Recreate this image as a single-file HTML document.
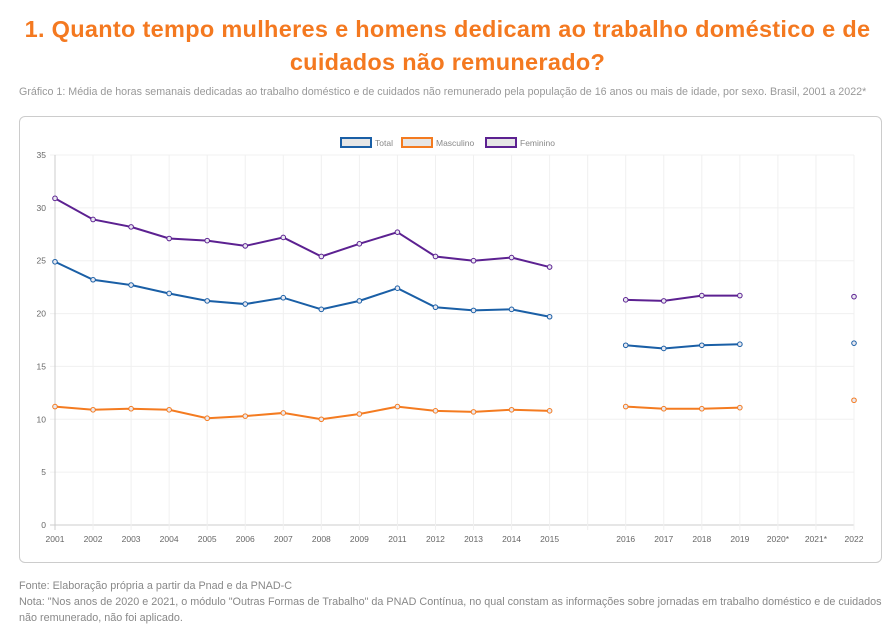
<!DOCTYPE html>
<html><head><meta charset="utf-8"><style>
body{margin:0;width:895px;height:643px;background:#fff;font-family:"Liberation Sans",sans-serif;overflow:hidden;position:relative}
h1{position:absolute;left:0;width:895px;top:13px;margin:0;text-align:center;color:#f47920;font-size:23.5px;line-height:33px;font-weight:bold;letter-spacing:0.3px}
.sub{position:absolute;left:19px;top:86px;font-size:10.7px;color:#999;white-space:nowrap}
.card{position:absolute;left:19px;top:116px;width:861px;height:445px;border:1px solid #ccc;border-radius:6px}
.foot{position:absolute;left:19px;top:578px;font-size:10.8px;color:#888;line-height:16px;white-space:nowrap}
svg{position:absolute;left:0;top:0}
</style></head><body>
<h1>1. Quanto tempo mulheres e homens dedicam ao trabalho doméstico e de<br>cuidados não remunerado?</h1>
<div class="sub">Gráfico 1: Média de horas semanais dedicadas ao trabalho doméstico e de cuidados não remunerado pela população de 16 anos ou mais de idade, por sexo. Brasil, 2001 a 2022*</div>
<div class="card"></div>
<div class="foot">Fonte: Elaboração própria a partir da Pnad e da PNAD-C<br>Nota: "Nos anos de 2020 e 2021, o módulo "Outras Formas de Trabalho" da PNAD Contínua, no qual constam as informações sobre jornadas em trabalho doméstico e de cuidados<br>não remunerado, não foi aplicado.</div>
<svg id="s" width="895" height="643" font-family="Liberation Sans, sans-serif"></svg>
<script>
var s=document.getElementById('s'),h='';
var X=i=>55+i*799/21, Y=v=>525-v*370/35;
var labs=['2001','2002','2003','2004','2005','2006','2007','2008','2009','2011','2012','2013','2014','2015','','2016','2017','2018','2019','2020*','2021*','2022'];
for(var v=0;v<=35;v+=5){h+=`<line x1="50" x2="854" y1="${Y(v)}" y2="${Y(v)}" stroke="${v==0?'#ccc':'#f0f0f0'}"/><text x="46" y="${Y(v)+3}" font-size="8.5" fill="#666" text-anchor="end">${v}</text>`}
labs.forEach((l,i)=>{h+=`<line x1="${X(i)}" x2="${X(i)}" y1="155" y2="530" stroke="${i==0?'#ccc':'#f0f0f0'}"/><text x="${X(i)}" y="542" font-size="8.5" fill="#666" text-anchor="middle">${l}</text>`});
var N=null,D=[
['#1a5fa6',[24.9,23.2,22.7,21.9,21.2,20.9,21.5,20.4,21.2,22.4,20.6,20.3,20.4,19.7,N,17.0,16.7,17.0,17.1,N,N,17.2]],
['#f47b20',[11.2,10.9,11.0,10.9,10.1,10.3,10.6,10.0,10.5,11.2,10.8,10.7,10.9,10.8,N,11.2,11.0,11.0,11.1,N,N,11.8]],
['#5c2191',[30.9,28.9,28.2,27.1,26.9,26.4,27.2,25.4,26.6,27.7,25.4,25.0,25.3,24.4,N,21.3,21.2,21.7,21.7,N,N,21.6]]];
D.forEach(([c,d])=>{var p='';d.forEach((v,i)=>{if(v==null){p+=' ';return}var prev=i>0&&d[i-1]!=null;p+=(prev?'L':'M')+X(i)+','+Y(v)});
h+=`<path d="${p}" fill="none" stroke="${c}" stroke-width="2"/>`;
d.forEach((v,i)=>{if(v!=null)h+=`<circle cx="${X(i)}" cy="${Y(v)}" r="2.3" fill="#e8e8f0" stroke="${c}" stroke-width="1"/>`})});
[['Total',341,'#1a5fa6'],['Masculino',402,'#f47b20'],['Feminino',486,'#5c2191']].forEach(([t,x,c])=>{h+=`<rect x="${x}" y="138" width="30" height="9" fill="#e6e6e6" stroke="${c}" stroke-width="2"/><text x="${x+34}" y="146" font-size="8.5" fill="#888">${t}</text>`});
s.innerHTML=h;
</script>
</body></html>
